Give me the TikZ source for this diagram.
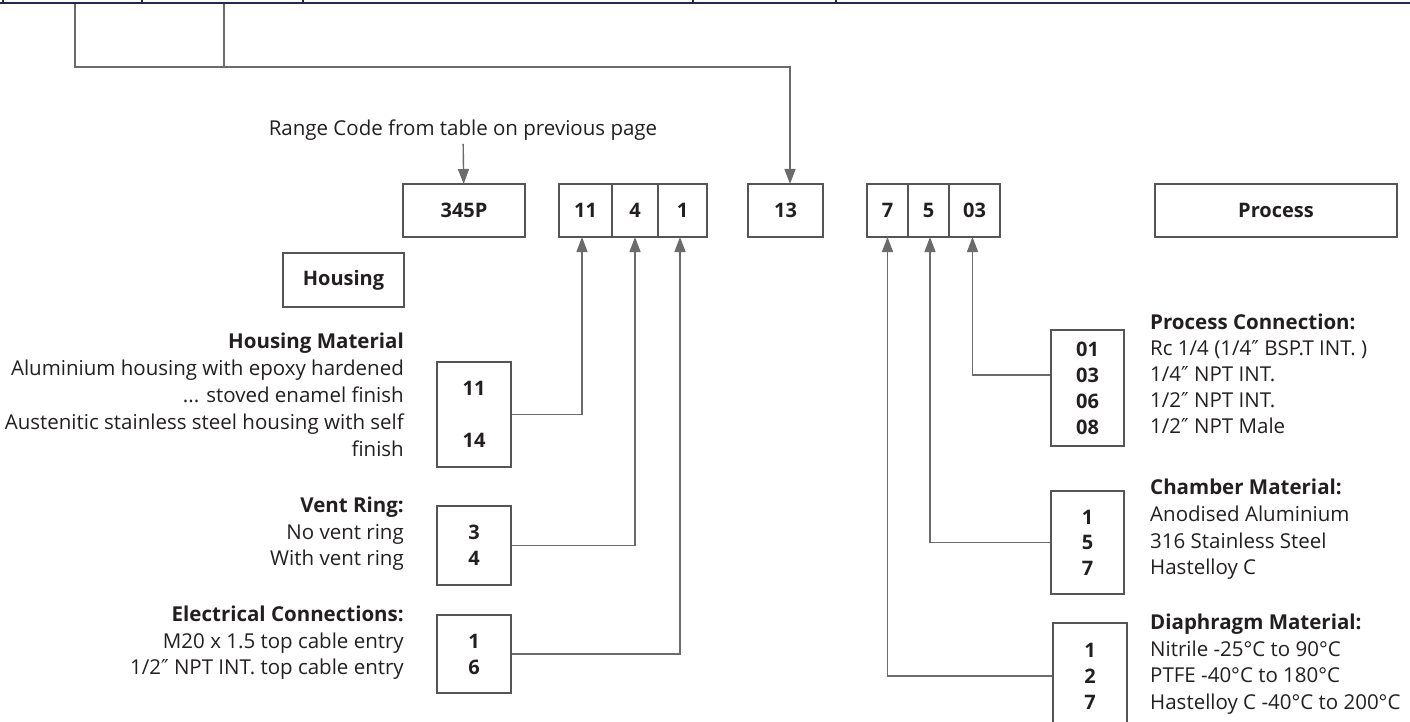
\documentclass[tikz,border=0pt]{standalone}
\usepackage{fontspec}
\setmainfont{Open Sans}
\newfontfamily\primefont{DejaVu Sans}
\newcommand{\inch}{{\primefont ″}}
\usetikzlibrary{arrows.meta,positioning}

\definecolor{ink}{HTML}{231F20}
\definecolor{boxgray}{HTML}{555555}
\definecolor{linegray}{HTML}{6B6B6B}
\definecolor{tablenavy}{HTML}{1F2B4D}

\begin{document}
\begin{tikzpicture}[x=1pt,y=-1pt,
    >={Triangle[length=15pt,width=11pt]},
    every node/.style={text=ink,font=\fontsize{20.5}{26.5}\selectfont},
    code/.style={draw=boxgray,line width=1.6pt,inner sep=0pt,outer sep=0pt,
      minimum height=53pt,font=\fontsize{20}{26}\selectfont\bfseries},
    pick/.style={draw=boxgray,line width=1.6pt,inner sep=0pt,align=center,
      minimum width=74pt,font=\fontsize{20}{26}\selectfont\bfseries},
    conn/.style={draw=linegray,line width=1.4pt},
    desc/.style={inner sep=0pt}]
    \useasboundingbox (0,0) rectangle (1410,722);

    % edge of the table above
    \draw[tablenavy,line width=2pt] (0,3) -- (1410,3);
    \foreach \x in {3,142,303,693,836} {\draw[tablenavy,line width=1.5pt] (\x,0) -- (\x,4);};

    % code boxes
    \node[code,minimum width=122pt] (c345) at (464,210.5) {345P};
    \node[code,minimum width=53pt] (c11) at (585.5,210.5) {11};
    \node[code,minimum width=46pt,right=0pt of c11] (c4) {4};
    \node[code,minimum width=49pt,right=0pt of c4] (c1) {1};
    \node[code,minimum width=75pt] (c13) at (785.5,210.5) {13};
    \node[code,minimum width=41pt] (c7) at (887.5,210.5) {7};
    \node[code,minimum width=41pt,right=0pt of c7] (c5) {5};
    \node[code,minimum width=51pt,right=0pt of c5] (c03) {03};
    \node[code,minimum width=242pt] (process) at (1276,210.5) {Process};
    \node[code,minimum width=121pt,minimum height=54pt] (housing) at (343.5,280) {Housing};

    \node (rangetxt) at (463,130) {Range Code from table on previous page};

    % option boxes
    \node[pick,minimum height=105pt] (hm) at (474,414.5) {11\\[26pt]14};
    \node[pick,minimum height=79pt] (vent) at (474,545.5) {3\\4};
    \node[pick,minimum height=78pt] (elec) at (474,654) {1\\6};
    \node[pick,minimum width=73pt,minimum height=116pt] (procbox) at (1087.5,388) {01\\03\\06\\08};
    \node[pick,minimum width=73pt,minimum height=103pt,font=\fontsize{20}{25.5}\selectfont\bfseries] (chambox) at (1087.5,542.5) {1\\5\\7};
    \node[pick,minimum height=106pt] (diabox) at (1090,676) {1\\2\\7};

    % descriptions
    \node[desc,anchor=north east,align=right,font=\fontsize{20.5}{27}\selectfont] (hmtxt) at (404,333)
      {\textbf{Housing Material}\\Aluminium housing with epoxy hardened\\... stoved enamel finish\\Austenitic stainless steel housing with self\\finish};
    \node[desc,anchor=north east,align=right] (venttxt) at (404,497)
      {\textbf{Vent Ring:}\\No vent ring\\With vent ring};
    \node[desc,anchor=north east,align=right] (electxt) at (404,606)
      {\textbf{Electrical Connections:}\\M20 x 1.5 top cable entry\\1/2\inch{} NPT INT. top cable entry};
    \node[desc,anchor=north west,align=left,font=\fontsize{20.5}{26}\selectfont] (proctxt) at (1150,314)
      {\textbf{Process Connection:}\\Rc 1/4 (1/4\inch{} BSP.T INT. )\\1/4\inch{} NPT INT.\\1/2\inch{} NPT INT.\\1/2\inch{} NPT Male};
    \node[desc,anchor=north west,align=left,font=\fontsize{20.5}{26.7}\selectfont] (chamtxt) at (1150,479)
      {\textbf{Chamber Material:}\\Anodised Aluminium\\316 Stainless Steel\\Hastelloy C};
    \node[desc,anchor=north west,align=left] (diatxt) at (1150,614)
      {\textbf{Diaphragm Material:}\\Nitrile -25°C to 90°C\\PTFE -40°C to 180°C\\Hastelloy C -40°C to 200°C};

    % connectors
    \coordinate (feedA) at (75,4);
    \coordinate (feedB) at (224,4);
    \coordinate (join) at (75,67);
    \draw[conn,->] (feedA) -- (join) -| ([xshift=4.5pt]c13.north);
    \draw[conn] (feedB) -- (feedB |- join);
    \draw[conn,->] (rangetxt) -- (c345);
    \draw[conn,->] (hm.east) -| ([xshift=-3.5pt]c11.south);
    \draw[conn,->] (vent.east) -| (c4.south);
    \draw[conn,->] (elec.east) -| ([xshift=-2.5pt]c1.south);
    \draw[conn,->] ([yshift=13pt]procbox.west) -| ([xshift=-2pt]c03.south);
    \draw[conn,->] (chambox.west) -| ([xshift=1.5pt]c5.south);
    \draw[conn,->] (diabox.west) -| (c7.south);
\end{tikzpicture}
\end{document}
